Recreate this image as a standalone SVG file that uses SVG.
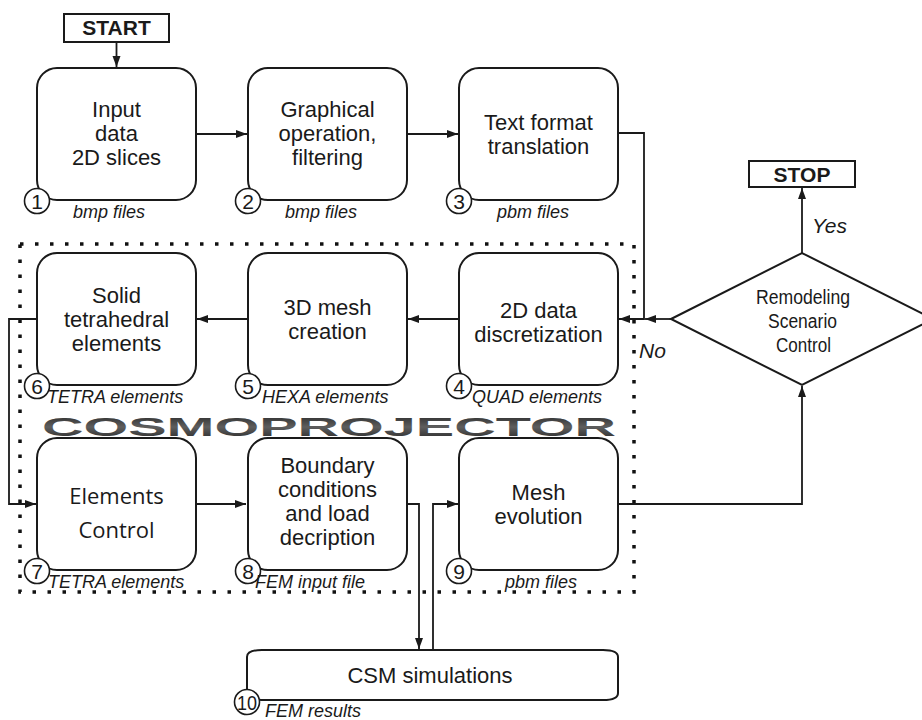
<svg xmlns="http://www.w3.org/2000/svg" width="922" height="720" viewBox="0 0 922 720">
<defs>
<marker id="ah" markerWidth="12" markerHeight="9" refX="11" refY="4" orient="auto" markerUnits="userSpaceOnUse">
<path d="M0,0 L11,4 L0,8 Z" fill="#1a1a1a"/>
</marker>
<linearGradient id="cg" x1="0" y1="0" x2="0" y2="1">
<stop offset="0" stop-color="#262626"/>
<stop offset="0.5" stop-color="#5e5e5e"/>
<stop offset="1" stop-color="#262626"/>
</linearGradient>
<style>
.box{fill:#fff;stroke:#1a1a1a;stroke-width:2}
.t{font-family:"Liberation Sans",Arial,sans-serif;font-size:22px;fill:#1a1a1a;text-anchor:middle}
.lbl{font-family:"Liberation Sans",Arial,sans-serif;font-size:18px;font-style:italic;fill:#1a1a1a}
.num{fill:#fff;stroke:#1a1a1a;stroke-width:1.6}
.nt{font-family:"Liberation Sans",Arial,sans-serif;font-size:21px;fill:#1a1a1a;text-anchor:middle}
.ca{fill:none;stroke:#1a1a1a;stroke-width:1.8;marker-end:url(#ah)}
.term{fill:#fff;stroke:#1a1a1a;stroke-width:2}
.tt{font-family:"Liberation Sans",Arial,sans-serif;font-size:21px;font-weight:bold;fill:#1a1a1a;text-anchor:middle}
.it{font-family:"Liberation Sans",Arial,sans-serif;font-size:21px;font-style:italic;fill:#1a1a1a}
.dt{font-family:"Liberation Sans",Arial,sans-serif;font-size:20px;fill:#1a1a1a}
</style>
</defs>
<rect width="922" height="720" fill="#fff"/>

<g id="cosmoprojector-frame">
<rect x="20" y="244" width="614" height="348" fill="none" stroke="#111" stroke-width="3.5" stroke-dasharray="3.5 11.5"/>
<text x="42" y="436" font-family="'Liberation Sans',Arial,sans-serif" font-weight="bold" font-size="25" fill="url(#cg)" textLength="574" lengthAdjust="spacingAndGlyphs">COSMOPROJECTOR</text>
</g>

<g id="connectors">
<path class="ca" d="M116.5,42 V67"/>
<path class="ca" d="M196,134 H247"/>
<path class="ca" d="M407,134 H458"/>
<path class="ca" d="M618,133 H644 V319 H619"/>
<path class="ca" d="M671,319 H645"/>
<path class="ca" d="M459,319 H408"/>
<path class="ca" d="M248,319 H197"/>
<path class="ca" d="M37,319 H9 V504 H36"/>
<path class="ca" d="M196,504 H246"/>
<path class="ca" d="M407,504 H419 V649"/>
<path class="ca" d="M433,650 V504 H458"/>
<path class="ca" d="M618,504 H802 V386"/>
<path class="ca" d="M802,253 V188"/>
</g>

<g id="start">
<rect class="term" x="64" y="14" width="105" height="28"/>
<text class="tt" x="116.5" y="35">START</text>
</g>

<g id="stop">
<rect class="term" x="749" y="161" width="106" height="26"/>
<text class="tt" x="802" y="182">STOP</text>
<text class="it" x="812" y="233">Yes</text>
</g>

<g id="n1">
<rect class="box" x="37" y="68" width="159" height="132" rx="20"/>
<text class="t" x="116.5" y="117">Input</text>
<text class="t" x="116.5" y="141">data</text>
<text class="t" x="116.5" y="165">2D slices</text>
<circle class="num" cx="37" cy="201" r="12.5"/>
<text class="nt" x="37" y="208.5">1</text>
<text class="lbl" x="73" y="218">bmp files</text>
</g>

<g id="n2">
<rect class="box" x="248" y="68" width="159" height="132" rx="20"/>
<text class="t" x="327.5" y="117">Graphical</text>
<text class="t" x="327.5" y="141">operation,</text>
<text class="t" x="327.5" y="165">filtering</text>
<circle class="num" cx="248" cy="201" r="12.5"/>
<text class="nt" x="248" y="208.5">2</text>
<text class="lbl" x="285" y="218">bmp files</text>
</g>

<g id="n3">
<rect class="box" x="459" y="68" width="159" height="132" rx="20"/>
<text class="t" x="538.5" y="130">Text format</text>
<text class="t" x="538.5" y="154">translation</text>
<circle class="num" cx="459" cy="201" r="12.5"/>
<text class="nt" x="459" y="208.5">3</text>
<text class="lbl" x="497" y="218">pbm files</text>
</g>

<g id="n4">
<rect class="box" x="459" y="253" width="159" height="132" rx="20"/>
<text class="t" x="538.5" y="318">2D data</text>
<text class="t" x="538.5" y="342">discretization</text>
<circle class="num" cx="459" cy="386" r="12.5"/>
<text class="nt" x="459" y="393.5">4</text>
<text class="lbl" x="472" y="403">QUAD elements</text>
</g>

<g id="n5">
<rect class="box" x="248" y="253" width="159" height="132" rx="20"/>
<text class="t" x="327.5" y="315">3D mesh</text>
<text class="t" x="327.5" y="339">creation</text>
<circle class="num" cx="248" cy="386" r="12.5"/>
<text class="nt" x="248" y="393.5">5</text>
<text class="lbl" x="262" y="403">HEXA elements</text>
</g>

<g id="n6">
<rect class="box" x="37" y="253" width="159" height="132" rx="20"/>
<text class="t" x="116.5" y="303">Solid</text>
<text class="t" x="116.5" y="327">tetrahedral</text>
<text class="t" x="116.5" y="351">elements</text>
<circle class="num" cx="37" cy="386" r="12.5"/>
<text class="nt" x="37" y="393.5">6</text>
<text class="lbl" x="47" y="403">TETRA elements</text>
</g>

<g id="n7">
<rect class="box" x="37" y="438" width="159" height="132" rx="20"/>
<text x="116.5" y="504" font-family="'Open Sans','DejaVu Sans',sans-serif" font-size="22" fill="#1a1a1a" text-anchor="middle">Elements</text>
<text x="116.5" y="538" font-family="'Open Sans','DejaVu Sans',sans-serif" font-size="22" fill="#1a1a1a" text-anchor="middle">Control</text>
<circle class="num" cx="37" cy="571" r="12.5"/>
<text class="nt" x="37" y="578.5">7</text>
<text class="lbl" x="48" y="588">TETRA elements</text>
</g>

<g id="n8">
<rect class="box" x="248" y="438" width="159" height="132" rx="20"/>
<text class="t" x="327.5" y="473">Boundary</text>
<text class="t" x="327.5" y="497">conditions</text>
<text class="t" x="327.5" y="521">and load</text>
<text class="t" x="327.5" y="545">decription</text>
<circle class="num" cx="248" cy="571" r="12.5"/>
<text class="nt" x="248" y="578.5">8</text>
<text class="lbl" x="255" y="588">FEM input file</text>
</g>

<g id="n9">
<rect class="box" x="459" y="438" width="159" height="132" rx="20"/>
<text class="t" x="538.5" y="500">Mesh</text>
<text class="t" x="538.5" y="524">evolution</text>
<circle class="num" cx="459" cy="571" r="12.5"/>
<text class="nt" x="459" y="578.5">9</text>
<text class="lbl" x="505" y="588">pbm files</text>
</g>

<g id="n10">
<path class="box" d="M247,657 Q247,650 262,650 H603 Q618,650 618,657 V693 Q618,700 603,700 H262 Q247,700 247,693 Z"/>
<text class="t" x="430" y="683">CSM simulations</text>
<circle class="num" cx="247" cy="702" r="12.5"/>
<text class="nt" x="247" y="709.5" font-size="19" textLength="20" lengthAdjust="spacingAndGlyphs">10</text>
<text class="lbl" x="265" y="717">FEM results</text>
</g>

<g id="decision">
<path class="box" d="M671,319 L802,253 L933,319 L802,385 Z"/>
<text class="dt" x="756" y="304" textLength="94" lengthAdjust="spacingAndGlyphs">Remodeling</text>
<text class="dt" x="768" y="328" textLength="69" lengthAdjust="spacingAndGlyphs">Scenario</text>
<text class="dt" x="776" y="352" textLength="55" lengthAdjust="spacingAndGlyphs">Control</text>
<text class="it" x="639" y="358">No</text>
</g>
</svg>
